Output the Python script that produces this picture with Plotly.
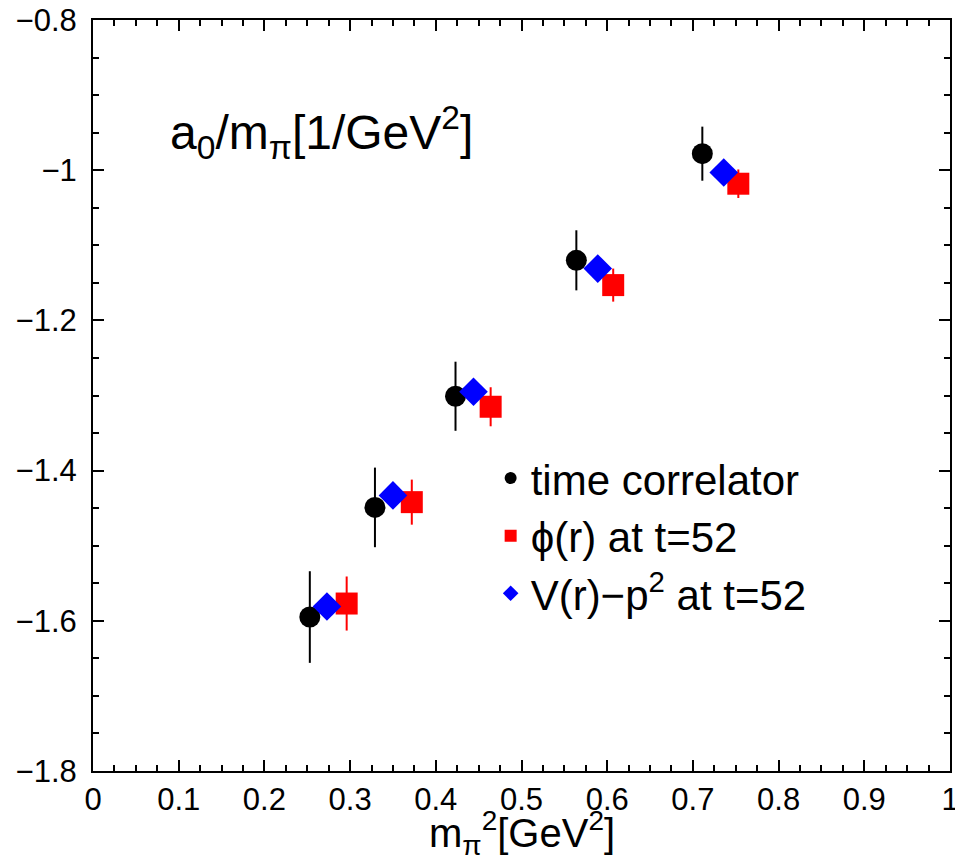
import plotly.graph_objects as go

# data
x_time = [0.253, 0.329, 0.423, 0.564, 0.711]
y_time = [-1.595, -1.449, -1.301, -1.120, -0.978]
e_time = [0.061, 0.053, 0.046, 0.040, 0.036]

x_phi = [0.296, 0.372, 0.464, 0.607, 0.753]
y_phi = [-1.577, -1.442, -1.315, -1.153, -1.018]
e_phi = [0.036, 0.030, 0.026, 0.022, 0.019]

x_v = [0.273, 0.350, 0.444, 0.589, 0.736]
y_v = [-1.581, -1.433, -1.295, -1.131, -1.003]

x_tickvals = [0, 0.1, 0.2, 0.3, 0.4, 0.5, 0.6, 0.7, 0.8, 0.9, 1]
x_ticktext = ["0", "0.1", "0.2", "0.3", "0.4", "0.5", "0.6", "0.7", "0.8", "0.9", "1"]
y_tickvals = [-1.8, -1.6, -1.4, -1.2, -1.0, -0.8]
y_ticktext = ["\u22121.8", "\u22121.6", "\u22121.4", "\u22121.2", "\u22121", "\u22120.8"]

FONT = "Liberation Sans, Arial, Helvetica, sans-serif"

fig = go.Figure()
fig.add_trace(go.Scatter(
    x=x_time, y=y_time, mode="markers", name="time correlator",
    marker=dict(symbol="circle", size=21, color="black"),
    error_y=dict(type="data", array=e_time, width=0, thickness=2, color="black"),
))
fig.add_trace(go.Scatter(
    x=x_phi, y=y_phi, mode="markers", name="\u03d5(r) at t=52",
    marker=dict(symbol="square", size=22, color="#ff0000"),
    error_y=dict(type="data", array=e_phi, width=0, thickness=2, color="#ff0000"),
))
fig.add_trace(go.Scatter(
    x=x_v, y=y_v, mode="markers", name="V(r)\u2212p<sup>2</sup> at t=52",
    marker=dict(symbol="diamond", size=22, color="#0000ff"),
))

axis_common = dict(
    showgrid=False, zeroline=False, showline=True, linecolor="black", linewidth=2,
    mirror="allticks", ticks="inside", ticklen=11, tickwidth=2, tickcolor="black",
    tickfont=dict(family=FONT, size=31, color="black"), automargin=False,
)

fig.update_xaxes(
    range=[0, 1], tickvals=x_tickvals, ticktext=x_ticktext,
    ticklabeloverflow="allow",
    minor=dict(ticks="inside", dtick=0.025, ticklen=6, tickwidth=1.5, tickcolor="black"),
    **axis_common,
)
fig.update_yaxes(
    range=[-1.8, -0.8], tickvals=y_tickvals, ticktext=y_ticktext,
    minor=dict(ticks="inside", dtick=0.05, ticklen=6, tickwidth=1.5, tickcolor="black"),
    ticklabelstandoff=8,
    **axis_common,
)

# x-axis title
fig.add_annotation(
    text="m<sub>\u03c0</sub><sup>2</sup>[GeV<sup>2</sup>]",
    xref="paper", yref="paper", x=0.5, y=-0.083, xanchor="center", yanchor="middle",
    showarrow=False, font=dict(family=FONT, size=40, color="black"),
)
# in-plot label
fig.add_annotation(
    text="a<sub>0</sub>/m<sub>\u03c0</sub>[1/GeV<sup>2</sup>]",
    xref="paper", yref="paper", x=0.088, y=0.85, xanchor="left", yanchor="middle",
    showarrow=False, font=dict(family=FONT, size=48, color="black"),
)

fig.update_layout(
    width=955, height=861,
    margin=dict(l=93, r=5, t=20, b=90),
    paper_bgcolor="white", plot_bgcolor="white",
    showlegend=True,
    legend=dict(x=0.464, y=0.435, xanchor="left", yanchor="top",
                bgcolor="rgba(0,0,0,0)", font=dict(family=FONT, size=42, color="black"),
                itemsizing="constant", tracegroupgap=0),
    font=dict(family=FONT),
)

fig.write_html("out.html")
